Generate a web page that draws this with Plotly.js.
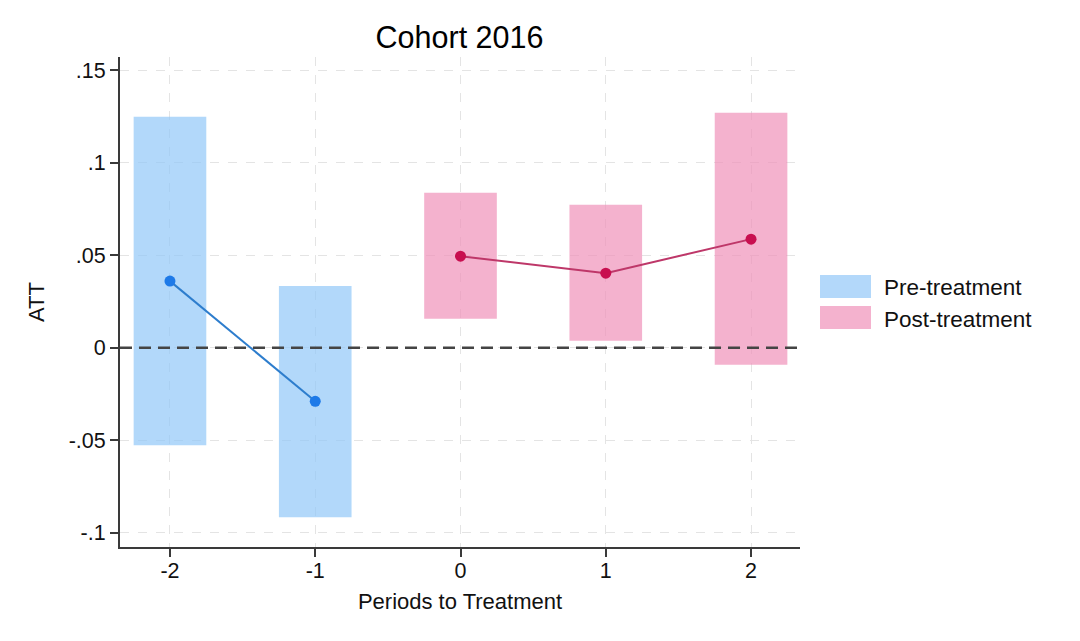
<!DOCTYPE html>
<html>
<head>
<meta charset="utf-8">
<script src="https://cdn.plot.ly/plotly-3.0.1.min.js"></script>
<style>html,body{margin:0;padding:0;background:#fff;}#chart{width:1080px;height:641px;}</style>
</head>
<body>
<div id="chart"></div>
<script>
// Data
var prePeriods = [-2, -1];
var preATT = [0.036, -0.029];
var preLower = [-0.0528, -0.0917];
var preUpper = [0.1249, 0.0333];

var postPeriods = [0, 1, 2];
var postATT = [0.0495, 0.0403, 0.0587];
var postLower = [0.0156, 0.0037, -0.0093];
var postUpper = [0.0838, 0.0773, 0.127];

var yTickVals = [-0.1, -0.05, 0, 0.05, 0.1, 0.15];
var yTickText = ["-.1", "-.05", "0", ".05", ".1", ".15"];
var xTickVals = [-2, -1, 0, 1, 2];
var xTickText = ["-2", "-1", "0", "1", "2"];
var seriesNames = ["Pre-treatment", "Post-treatment"];

function diff(a, b) { return a.map(function (v, i) { return v - b[i]; }); }

var blueFill = "rgba(146,199,248,0.7)";
var pinkFill = "rgba(239,145,185,0.7)";
var FONT = "Liberation Sans, Arial, Helvetica, sans-serif";
var AX = "#3a3a3a";

var traces = [
  {type: "bar", x: prePeriods, y: diff(preUpper, preLower), base: preLower, width: 0.5,
   marker: {color: blueFill, line: {width: 0}}, name: seriesNames[0], showlegend: false, hoverinfo: "skip"},
  {type: "bar", x: postPeriods, y: diff(postUpper, postLower), base: postLower, width: 0.5,
   marker: {color: pinkFill, line: {width: 0}}, name: seriesNames[1], showlegend: false, hoverinfo: "skip"},
  {type: "scatter", mode: "lines+markers", x: prePeriods, y: preATT,
   line: {color: "rgb(45,125,205)", width: 2}, marker: {color: "rgb(30,122,232)", size: 11},
   showlegend: false},
  {type: "scatter", mode: "lines+markers", x: postPeriods, y: postATT,
   line: {color: "rgb(190,55,105)", width: 2}, marker: {color: "rgb(200,15,80)", size: 11},
   showlegend: false}
];

var layout = {
  width: 1080, height: 641,
  margin: {l: 120, r: 280, t: 57, b: 94},
  paper_bgcolor: "#fff", plot_bgcolor: "#fff",
  barmode: "overlay",
  font: {family: FONT, color: "#111", size: 22},
  title: {text: "Cohort 2016", x: 0.4255, xanchor: "center", y: 0.942, yanchor: "middle",
          font: {family: FONT, size: 30.5, color: "#000"}},
  xaxis: {
    range: [-2.344, 2.337], tickvals: xTickVals, ticktext: xTickText,
    showline: true, linecolor: AX, linewidth: 2,
    ticks: "outside", ticklen: 8, tickwidth: 2, tickcolor: AX,
    ticklabelstandoff: -5,
    showgrid: true, gridcolor: "#e4e4e4", gridwidth: 1, griddash: "dash",
    zeroline: false, tickfont: {size: 21.5, color: "#111"},
    title: {text: "Periods to Treatment", font: {size: 22, color: "#111"}, standoff: 12}
  },
  yaxis: {
    range: [-0.1078, 0.1572], tickvals: yTickVals, ticktext: yTickText,
    showline: true, linecolor: AX, linewidth: 2,
    ticks: "outside", ticklen: 8, tickwidth: 2, tickcolor: AX,
    showgrid: true, gridcolor: "#e4e4e4", gridwidth: 1, griddash: "dash",
    zeroline: false, tickfont: {size: 21.5, color: "#111"},
    title: {text: "ATT", font: {size: 22, color: "#111"}, standoff: 18}
  },
  showlegend: false,
  shapes: [
    {type: "line", xref: "paper", yref: "y", x0: 0, x1: 1.005, y0: 0, y1: 0,
     line: {color: "#444", width: 2.5, dash: "12px,7px"}, layer: "above"},
    // legend swatches
    {type: "rect", xref: "paper", yref: "paper", x0: (820-120)/680, x1: (871-120)/680,
     y0: (547-298)/490, y1: (547-275)/490, fillcolor: "rgb(179,216,250)", line: {width: 0}},
    {type: "rect", xref: "paper", yref: "paper", x0: (820-120)/680, x1: (871-120)/680,
     y0: (547-329)/490, y1: (547-306)/490, fillcolor: "rgb(244,178,206)", line: {width: 0}}
  ],
  annotations: [
    {xref: "paper", yref: "paper", x: (882-120)/680, y: (547-287)/490, xanchor: "left", yanchor: "middle",
     text: seriesNames[0], showarrow: false, font: {size: 22.5, color: "#111"}},
    {xref: "paper", yref: "paper", x: (882-120)/680, y: (547-319)/490, xanchor: "left", yanchor: "middle",
     text: seriesNames[1], showarrow: false, font: {size: 22.5, color: "#111"}}
  ]
};

Plotly.newPlot("chart", traces, layout, {displayModeBar: false, staticPlot: true});
</script>
</body>
</html>
